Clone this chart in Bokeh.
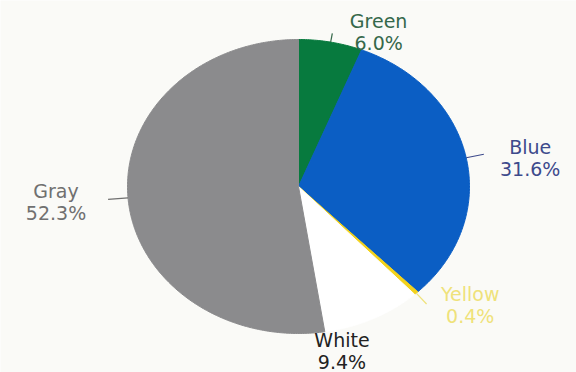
import numpy as np
from bokeh.plotting import figure
from bokeh.models import Range1d, ColumnDataSource
from bokeh.core.properties import value
from bokeh.embed import file_html
from bokeh.resources import INLINE

# ---- data ----
categories = ["Green", "Blue", "Yellow", "White", "Gray"]
percents = [6.0, 31.6, 0.4, 9.4, 52.3]
pct_labels = ["6.0%", "31.6%", "0.4%", "9.4%", "52.3%"]

# ---- styles ----
slice_colors = ["#077a3e", "#0b5ec4", "#f3d21c", "#ffffff", "#8b8b8d"]
label_colors = ["#35684a", "#3d4a8c", "#efe27a", "#222222", "#707070"]
# label offsets (dx, dy) from the slice's mid-angle anchor, and leader lengths
label_dx = [48, 64, 54, -31, -72]
label_dy = [-21, -11, 1, 21, -7]
leader_len = [9, 18, 15, 0, 20]
BG = "#fafaf7"
FONT = "DejaVu Sans"
LINE_GAP = 22

W, H = 576, 372
CX, CY, RX, RY = 298, 186, 171, 147

frac = np.array(percents) / np.sum(percents)
ends = np.cumsum(frac) * 2 * np.pi
starts = ends - frac * 2 * np.pi

p = figure(width=W, height=H, x_range=Range1d(0, W), y_range=Range1d(H, 0),
           output_backend="svg", toolbar_location=None, min_border=0)
p.axis.visible = False
p.grid.visible = False
p.outline_line_color = None
p.background_fill_color = BG
p.border_fill_color = BG

xs, ys = [], []
for s, e in zip(starts, ends):
    t = np.linspace(s, e, max(4, int((e - s) / 0.01)))
    xs.append([CX] + list(CX + RX * np.sin(t)) + [CX])
    ys.append([CY] + list(CY - RY * np.cos(t)) + [CY])
p.patches(xs, ys, fill_color=slice_colors, line_color=slice_colors, line_width=1)

mid = (starts + ends) / 2
ax = CX + RX * np.sin(mid)
ay = CY - RY * np.cos(mid)

# leader lines
lx, ly, lc = [], [], []
for i in range(len(categories)):
    if leader_len[i] > 0:
        lx.append([ax[i], ax[i] + leader_len[i] * np.sin(mid[i])])
        ly.append([ay[i], ay[i] - leader_len[i] * np.cos(mid[i])])
        lc.append(label_colors[i])
p.multi_line(lx, ly, line_color=lc, line_width=1.2)

nx = ax + np.array(label_dx)
ny = ay + np.array(label_dy)
src = ColumnDataSource(dict(x=nx, y=ny, y2=ny + LINE_GAP, name=categories,
                            pct=pct_labels, color=label_colors))
p.text(x="x", y="y", text="name", source=src, text_color="color",
       text_align="center", text_baseline="middle", text_font_size="19px",
       text_font=value(FONT))
p.text(x="x", y="y2", text="pct", source=src, text_color="color",
       text_align="center", text_baseline="middle", text_font_size="19px",
       text_font=value(FONT))

open("out.html", "w").write(file_html(p, INLINE))
